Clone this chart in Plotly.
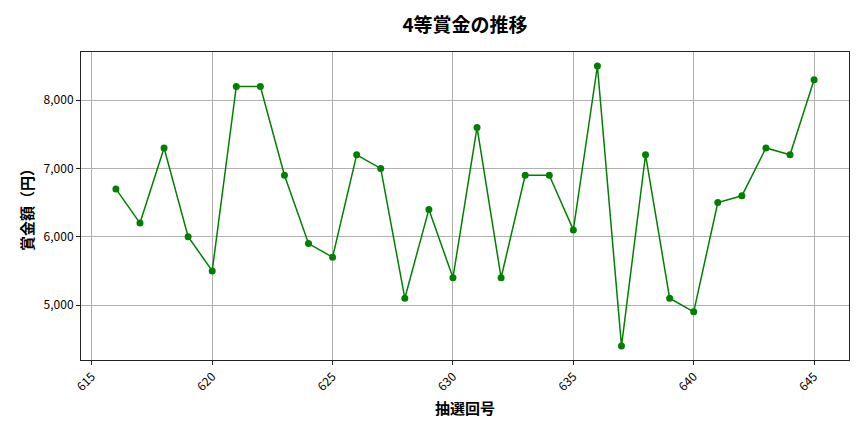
import plotly.graph_objects as go

draws = list(range(616, 646))
prizes = [6700, 6200, 7300, 6000, 5500, 8200, 8200, 6900, 5900, 5700,
          7200, 7000, 5100, 6400, 5400, 7600, 5400, 6900, 6900, 6100,
          8500, 4400, 7200, 5100, 4900, 6500, 6600, 7300, 7200, 8300]
x_ticks = [615, 620, 625, 630, 635, 640, 645]
y_ticks = [5000, 6000, 7000, 8000]

FONT = "Noto Sans CJK JP"

fig = go.Figure(go.Scatter(
    x=draws, y=prizes, mode="lines+markers",
    line=dict(color="#008000", width=1.5),
    marker=dict(color="#008000", size=7),
))

fig.update_layout(
    width=856, height=424,
    margin=dict(l=73, r=15, t=44, b=72),
    paper_bgcolor="white", plot_bgcolor="white",
    font=dict(family=FONT, color="black", size=12),
    title=dict(text="<b>4等賞金の推移</b>", x=0.5, xref="paper", xanchor="center",
               y=0.96, yanchor="middle", font=dict(size=19, family=FONT)),
    showlegend=False,
)
fig.update_xaxes(
    range=[614.55, 646.45], tickvals=x_ticks, tickangle=-45,
    showgrid=True, gridcolor="#b0b0b0", gridwidth=0.8,
    showline=True, linecolor="#222", linewidth=1, mirror=True,
    ticks="outside", ticklen=4, tickcolor="#222", zeroline=False,
    automargin=False,
    title=dict(text="<b>抽選回号</b>", font=dict(size=15, family=FONT), standoff=10),
)
fig.update_yaxes(
    range=[4195, 8705], tickvals=y_ticks, tickformat=",d",
    showgrid=True, gridcolor="#b0b0b0", gridwidth=0.8,
    showline=True, linecolor="#222", linewidth=1, mirror=True,
    ticks="outside", ticklen=4, tickcolor="#222", zeroline=False,
    automargin=False,
    title=dict(text="<b>賞金額（円）</b>", font=dict(size=15, family=FONT), standoff=6),
)

fig.write_html("out.html")
